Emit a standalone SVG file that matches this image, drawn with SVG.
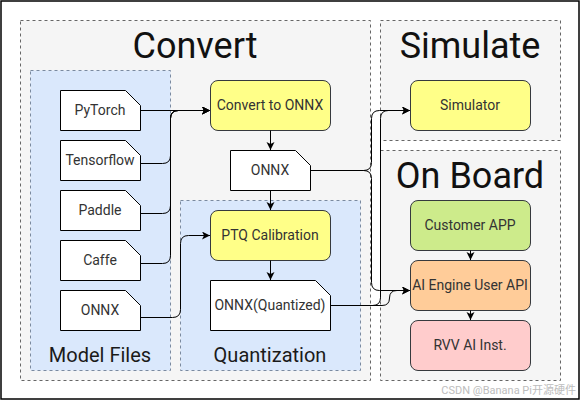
<svg xmlns="http://www.w3.org/2000/svg" width="581" height="401" viewBox="0 0 581 401">
<defs>
<marker id="arr" markerUnits="userSpaceOnUse" markerWidth="10" markerHeight="10" refX="8" refY="4" orient="auto">
<path d="M0,0 L8,4 L0,8 L2,4 Z" fill="#000"/>
</marker>
<style>
.cont{fill:#f5f5f5;stroke:#666;stroke-dasharray:3 3;stroke-width:1}
.blue{fill:#dae8fc;stroke:#7a8aa0;stroke-dasharray:3 3;stroke-width:1}
.doc{fill:#fff;stroke:#000;stroke-width:1}
.yel{fill:#ffff88;stroke:#36393d}
.grn{fill:#cdeb8b;stroke:#36393d}
.org{fill:#ffcc99;stroke:#36393d}
.pnk{fill:#ffcccc;stroke:#36393d}
.lbl{font-family:Roboto,"Liberation Sans",sans-serif;font-size:14px;fill:#333;text-anchor:middle}
.ttl{font-family:Roboto,"Liberation Sans",sans-serif;font-size:36px;fill:#111;text-anchor:middle}
.sub{font-family:Roboto,"Liberation Sans",sans-serif;font-size:20px;fill:#1a1a1a;text-anchor:middle}
.edge{fill:none;stroke:#000;stroke-width:1}
</style>
</defs>
<rect x="0" y="0" width="581" height="401" fill="#fff"/>
<rect x="1" y="1" width="578" height="398" fill="none" stroke="#000" stroke-width="1.5"/>

<g id="convert-group">
<rect class="cont" x="20.5" y="20.5" width="350" height="360"/>
<text class="ttl" x="195" y="58">Convert</text>
</g>
<g id="model-files-group">
<rect class="blue" x="30.5" y="70.5" width="140" height="300"/>
<text class="sub" x="100" y="362">Model Files</text>
</g>
<g id="quantization-group">
<rect class="blue" x="180.5" y="200.5" width="180" height="170"/>
<text class="sub" x="270" y="362">Quantization</text>
</g>
<g id="simulate-group">
<rect class="cont" x="380.5" y="20.5" width="180" height="120"/>
<text class="ttl" x="470" y="58">Simulate</text>
</g>
<g id="onboard-group">
<rect class="cont" x="380.5" y="150.5" width="180" height="230"/>
<text class="ttl" x="470" y="188">On Board</text>
</g>

<g id="pytorch">
<path class="doc" d="M60.5,90.5 H125.5 L140.5,105.5 V130.5 H60.5 Z"/>
<text class="lbl" x="100" y="115">PyTorch</text>
</g>
<g id="tensorflow">
<path class="doc" d="M60.5,140.5 H125.5 L140.5,155.5 V180.5 H60.5 Z"/>
<text class="lbl" x="100" y="165">Tensorflow</text>
</g>
<g id="paddle">
<path class="doc" d="M60.5,190.5 H125.5 L140.5,205.5 V230.5 H60.5 Z"/>
<text class="lbl" x="100" y="215">Paddle</text>
</g>
<g id="caffe">
<path class="doc" d="M60.5,240.5 H125.5 L140.5,255.5 V280.5 H60.5 Z"/>
<text class="lbl" x="100" y="265">Caffe</text>
</g>
<g id="onnx-file">
<path class="doc" d="M60.5,290.5 H125.5 L140.5,305.5 V330.5 H60.5 Z"/>
<text class="lbl" x="100" y="315">ONNX</text>
</g>

<g id="convert-to-onnx">
<rect class="yel" x="210.5" y="80.5" width="120" height="50" rx="7.5"/>
<text class="lbl" x="270" y="110">Convert to ONNX</text>
</g>
<g id="onnx-doc">
<path class="doc" d="M230.5,150.5 H295.5 L310.5,165.5 V190.5 H230.5 Z"/>
<text class="lbl" x="270" y="175">ONNX</text>
</g>
<g id="ptq-calibration">
<rect class="yel" x="210.5" y="210.5" width="120" height="50" rx="7.5"/>
<text class="lbl" x="270" y="240">PTQ Calibration</text>
</g>
<g id="onnx-quantized">
<path class="doc" d="M210.5,280.5 H315.5 L330.5,295.5 V330.5 H210.5 Z"/>
<text class="lbl" x="270" y="310">ONNX(Quantized)</text>
</g>

<g id="simulator">
<rect class="yel" x="410.5" y="80.5" width="120" height="50" rx="7.5"/>
<text class="lbl" x="470" y="110">Simulator</text>
</g>
<g id="customer-app">
<rect class="grn" x="410.5" y="200.5" width="120" height="50" rx="7.5"/>
<text class="lbl" x="470" y="230">Customer APP</text>
</g>
<g id="ai-engine-user-api">
<rect class="org" x="410.5" y="260.5" width="120" height="50" rx="7.5"/>
<text class="lbl" x="470" y="290">AI Engine User API</text>
</g>
<g id="rvv-ai-inst">
<rect class="pnk" x="410.5" y="320.5" width="120" height="50" rx="7.5"/>
<text class="lbl" x="470" y="350">RVV AI Inst.</text>
</g>

<g id="connectors">
<path class="edge" marker-end="url(#arr)" d="M140.5,110.5 H210"/>
<path class="edge" marker-end="url(#arr)" d="M140.5,163.5 H162.5 Q170.5,163.5 170.5,155.5 V118.5 Q170.5,110.5 178.5,110.5 H210"/>
<path class="edge" marker-end="url(#arr)" d="M140.5,213.5 H162.5 Q170.5,213.5 170.5,205.5 V118.5 Q170.5,110.5 178.5,110.5 H210"/>
<path class="edge" marker-end="url(#arr)" d="M140.5,263.5 H162.5 Q170.5,263.5 170.5,255.5 V118.5 Q170.5,110.5 178.5,110.5 H210"/>
<path class="edge" marker-end="url(#arr)" d="M140.5,317.5 H172.5 Q180.5,317.5 180.5,309.5 V243.5 Q180.5,235.5 188.5,235.5 H210"/>
<path class="edge" marker-end="url(#arr)" d="M270.5,130.5 V150"/>
<path class="edge" marker-end="url(#arr)" d="M270.5,190.5 V210"/>
<path class="edge" marker-end="url(#arr)" d="M270.5,260.5 V280"/>
<path class="edge" marker-end="url(#arr)" d="M310.5,170.5 H363.5 Q371.5,170.5 371.5,162.5 V118.5 Q371.5,110.5 379.5,110.5 H410"/>
<path class="edge" marker-end="url(#arr)" d="M310.5,170.5 H363.5 Q371.5,170.5 371.5,178.5 V282.5 Q371.5,290.5 379.5,290.5 H410"/>
<path class="edge" marker-end="url(#arr)" d="M330.5,305.5 H372.5 Q380.5,305.5 380.5,297.5 V118.5 Q380.5,110.5 388.5,110.5 H410"/>
<path class="edge" marker-end="url(#arr)" d="M330.5,305.5 H382 Q389.5,305.5 389.5,298 Q389.5,290.5 397,290.5 H410"/>
<path class="edge" marker-end="url(#arr)" d="M470.5,250.5 V260"/>
<path class="edge" marker-end="url(#arr)" d="M470.5,310.5 V320"/>
</g>

<text x="576" y="394" font-family="Roboto,'Liberation Sans','Noto Sans CJK SC',sans-serif" font-size="11" fill="#bdbdbd" text-anchor="end">CSDN @Banana Pi开源硬件</text>
</svg>
